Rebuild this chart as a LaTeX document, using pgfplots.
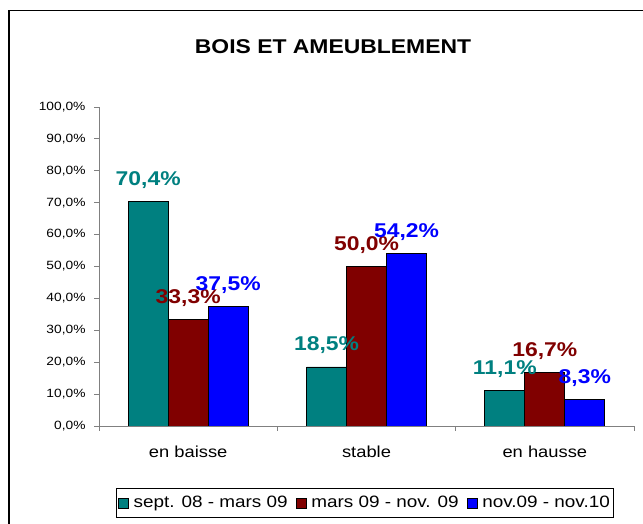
\documentclass[border=0pt]{standalone}
\usepackage{pgfplots}
\pgfplotsset{compat=1.18}
\usepackage{fontspec}
\setmainfont[FakeStretch=1.15]{Liberation Sans}
\definecolor{cteal}{RGB}{0,128,128}
\definecolor{cmaroon}{RGB}{128,0,0}
\definecolor{cblue}{RGB}{0,0,255}
\definecolor{axgray}{RGB}{128,128,128}
\begin{document}
\begin{tikzpicture}[x=1bp,y=1bp]
\useasboundingbox (0,0) rectangle (643,524);
\draw[line width=1.3bp] (9,-20) -- (9,513.5) -- (670,513.5);
\node[anchor=base, font=\fontsize{20}{24}\selectfont\bfseries] at (333,470) {BOIS ET AMEUBLEMENT};
\begin{axis}[
  at={(99bp,98bp)}, anchor=south west,
  width=535bp, height=319bp, scale only axis,
  xmin=-0.5, xmax=2.5, ymin=0, ymax=100,
  ybar=0pt, bar width=40bp,
  axis x line*=bottom, axis y line*=left,
  axis line style={axgray, line width=0.8bp},
  tick align=outside,
  major tick length=5bp,
  tick style={axgray, line width=0.8bp},
  xtick={-0.5,0.5,1.5,2.5}, xticklabels={},
  extra x ticks={0,1,2},
  extra x tick labels={en baisse,stable,en hausse},
  extra x tick style={major tick length=0pt},
  x tick label style={font=\fontsize{16}{19}\selectfont, yshift=-16bp},
  ytick={0,10,...,100},
  yticklabels={{0,0\%},{10,0\%},{20,0\%},{30,0\%},{40,0\%},{50,0\%},{60,0\%},{70,0\%},{80,0\%},{90,0\%},{100,0\%}},
  y tick label style={font=\fontsize{12}{14}\selectfont, xshift=-5bp},
  /pgf/number format/assume math mode=true,
  nodes near coords={\pgfmathprintnumber[fixed,fixed zerofill,precision=1,use comma]{\pgfplotspointmeta}\%},
  nodes near coords style={anchor=base, yshift=16bp, font=\fontsize{20}{24}\selectfont\bfseries},
  legend columns=3,
  legend style={at={(0.497,-0.241)}, anchor=center, draw=black, line width=0.8bp,
    font=\fontsize{16.5}{19}\selectfont, inner ysep=6bp, inner xsep=2bp,
    /tikz/every odd column/.append style={column sep=3bp},
    /tikz/every even column/.append style={column sep=6bp}},
  legend image code/.code={\draw[#1, draw=black, line width=0.6bp] (0bp,-5bp) rectangle (10bp,5bp);},
]
\addplot[fill=cteal, draw=black, line width=0.8bp, every node near coord/.append style={text=cteal}] coordinates {(0,70.4) (1,18.5) (2,11.1)};
\addplot[fill=cmaroon, draw=black, line width=0.8bp, every node near coord/.append style={text=cmaroon}] coordinates {(0,33.3) (1,50.0) (2,16.7)};
\addplot[fill=cblue, draw=black, line width=0.8bp, every node near coord/.append style={text=cblue}] coordinates {(0,37.5) (1,54.2) (2,8.3)};
\legend{sept. 08 - mars 09, mars 09 - nov. 09, nov.09 - nov.10}
\end{axis}
\end{tikzpicture}
\end{document}
